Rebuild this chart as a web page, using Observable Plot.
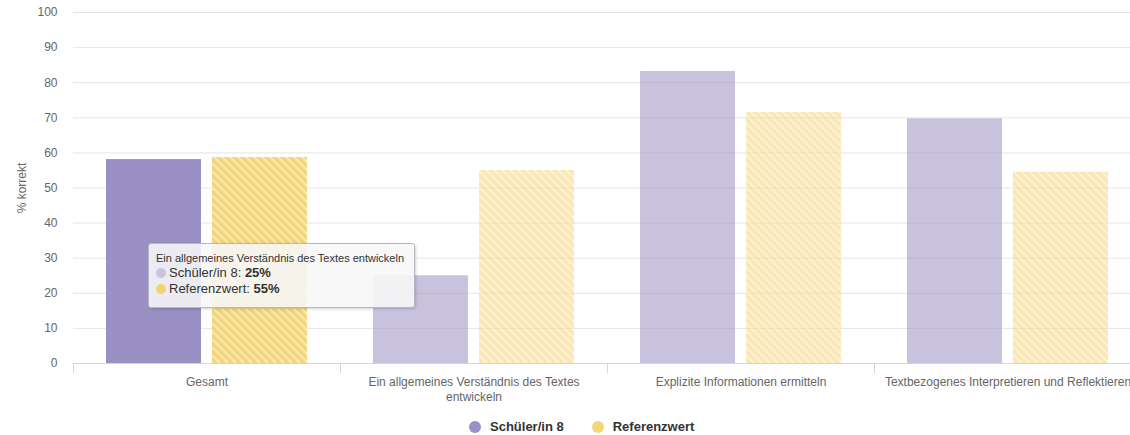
<!DOCTYPE html>
<html>
<head>
<meta charset="utf-8">
<script src="https://cdn.jsdelivr.net/npm/d3@7"></script>
<script src="https://cdn.jsdelivr.net/npm/@observablehq/plot@0.6"></script>
<style>
  html, body { margin: 0; padding: 0; background: #fff; }
  body { width: 1130px; height: 435px; overflow: hidden; position: relative;
         font-family: "Liberation Sans", Arial, sans-serif; }
  #chart svg { max-width: none; display: block; }
  #legend { position: absolute; top: 419px; left: 469px; display: flex; align-items: center;
            font-size: 13px; font-weight: bold; color: #333; white-space: nowrap; }
  #legend .item { display: flex; align-items: center; margin-right: 28px; }
  #legend .dot { width: 12px; height: 12px; border-radius: 50%; margin-right: 9px; }
  #tip { position: absolute; left: 148px; top: 243px; width: 254px; height: 55px;
         padding: 4px 4px 4px 7px; background: rgba(247,247,247,0.88);
         border: 1px solid #b8b8c4; border-radius: 3px; box-shadow: 1px 1px 3px rgba(0,0,0,0.18);
         color: #333; font-size: 13px; line-height: 16px; }
  #tip .head { font-size: 11px; line-height: 14px; margin-top: 3px; }
  #tip .dot { display: inline-block; width: 10px; height: 10px; border-radius: 50%; margin-right: 3px; vertical-align: -1px; }
</style>
</head>
<body>
<div id="chart"></div>
<div id="legend"></div>
<div id="tip"></div>
<script>
// ---- data ----
const categories = [
  "Gesamt",
  "Ein allgemeines Verständnis des Textes entwickeln",
  "Explizite Informationen ermitteln",
  "Textbezogenes Interpretieren und Reflektieren"
];
const tickLabels = [
  "Gesamt",
  "Ein allgemeines Verständnis des Textes\nentwickeln",
  "Explizite Informationen ermitteln",
  "Textbezogenes Interpretieren und Reflektieren"
];
const seriesNames = ["Schüler/in 8", "Referenzwert"];
const schuelerValues = [58.1, 25, 83.2, 69.7];
const referenzValues = [58.7, 55, 71.5, 54.5];
const yTicks = [0, 10, 20, 30, 40, 50, 60, 70, 80, 90, 100];
const highlightedCategory = "Gesamt";
const tooltipCategory = categories[1];
const yLabel = "% korrekt";

// ---- colours ----
const purple = "#9a90c4";
const yellow = "#f4d679";

const rows = categories.flatMap((c, i) => [
  {cat: c, series: seriesNames[0], value: schuelerValues[i]},
  {cat: c, series: seriesNames[1], value: referenzValues[i]}
]);
const fade = d => d.cat === highlightedCategory ? 1 : 0.55;

const plot = Plot.plot({
  width: 1150,
  height: 405,
  marginLeft: 72,
  marginRight: 8,
  marginTop: 12,
  marginBottom: 42,
  style: {fontFamily: "'Liberation Sans', Arial, sans-serif", fontSize: "12px", color: "#666", background: "transparent"},
  fx: {domain: categories, padding: 0, axis: null, label: null},
  x: {domain: seriesNames, paddingInner: 0.103, paddingOuter: 0.3, axis: null},
  y: {domain: [0, 100], axis: null},
  opacity: {type: "identity"},
  marks: [
    Plot.ruleY(yTicks, {stroke: "#e6e6e6", strokeWidth: 1}),
    Plot.barY(rows.filter(d => d.series === seriesNames[0]),
      {fx: "cat", x: "series", y: "value", fill: purple, fillOpacity: fade}),
    Plot.barY(rows.filter(d => d.series === seriesNames[1]),
      {fx: "cat", x: "series", y: "value", fill: "url(#refStripes)", fillOpacity: fade}),
    Plot.ruleY([0], {stroke: "#ccd6eb", strokeWidth: 1}),
    Plot.axisY(yTicks, {tickSize: 0, tickPadding: 16, color: "#666", fontSize: 12,
      label: yLabel, labelAnchor: "center", labelArrow: "none", labelOffset: 56}),
    Plot.text(categories, {fx: d => d, text: (d, i) => tickLabels[i], frameAnchor: "bottom",
      lineAnchor: "top", dy: 12, fontSize: 12, fill: "#666", lineHeight: 1.25})
  ]
});

document.getElementById("chart").appendChild(plot);

// pattern definition for the Referenzwert bars
const svg = d3.select(plot.tagName.toLowerCase() === "svg" ? plot : plot.querySelector("svg"));
const defs = svg.insert("defs", ":first-child");
const pat = defs.append("pattern").attr("id", "refStripes").attr("patternUnits", "userSpaceOnUse")
  .attr("width", 8).attr("height", 8);
pat.append("rect").attr("width", 8).attr("height", 8).attr("fill", yellow);
pat.append("path").attr("d", "M0,0 L8,8 M-2,6 L2,10 M6,-2 L10,2")
  .attr("stroke", "rgba(255,255,255,0.5)").attr("stroke-width", 1.6);

// category boundary ticks on the x axis (from the fx scale)
const fxs = plot.scale("fx");
const ys = plot.scale("y");
const y0 = ys.apply(0);
const bounds = categories.map(c => fxs.apply(c)).concat([fxs.apply(categories[categories.length - 1]) + fxs.bandwidth]);
svg.append("g").selectAll("line").data(bounds).join("line")
  .attr("x1", d => d + 0.5).attr("x2", d => d + 0.5)
  .attr("y1", y0).attr("y2", y0 + 10)
  .attr("stroke", "#ccd6eb");

// legend
const legend = d3.select("#legend");
const legendColors = [purple, yellow];
seriesNames.forEach((s, i) => {
  const item = legend.append("div").attr("class", "item");
  item.append("div").attr("class", "dot").style("background", legendColors[i]);
  item.append("span").text(s);
});

// tooltip (hover state)
const ti = categories.indexOf(tooltipCategory);
const tip = d3.select("#tip");
tip.append("div").attr("class", "head").text(tooltipCategory);
const tipVals = [schuelerValues[ti], referenzValues[ti]];
const tipDots = ["#c9c4e0", "#f3d36f"];
seriesNames.forEach((s, i) => {
  const row = tip.append("div");
  row.append("span").attr("class", "dot").style("background", tipDots[i]);
  row.append("span").text(s + ": ");
  row.append("b").text(Math.round(tipVals[i]) + "%");
});
</script>
</body>
</html>
